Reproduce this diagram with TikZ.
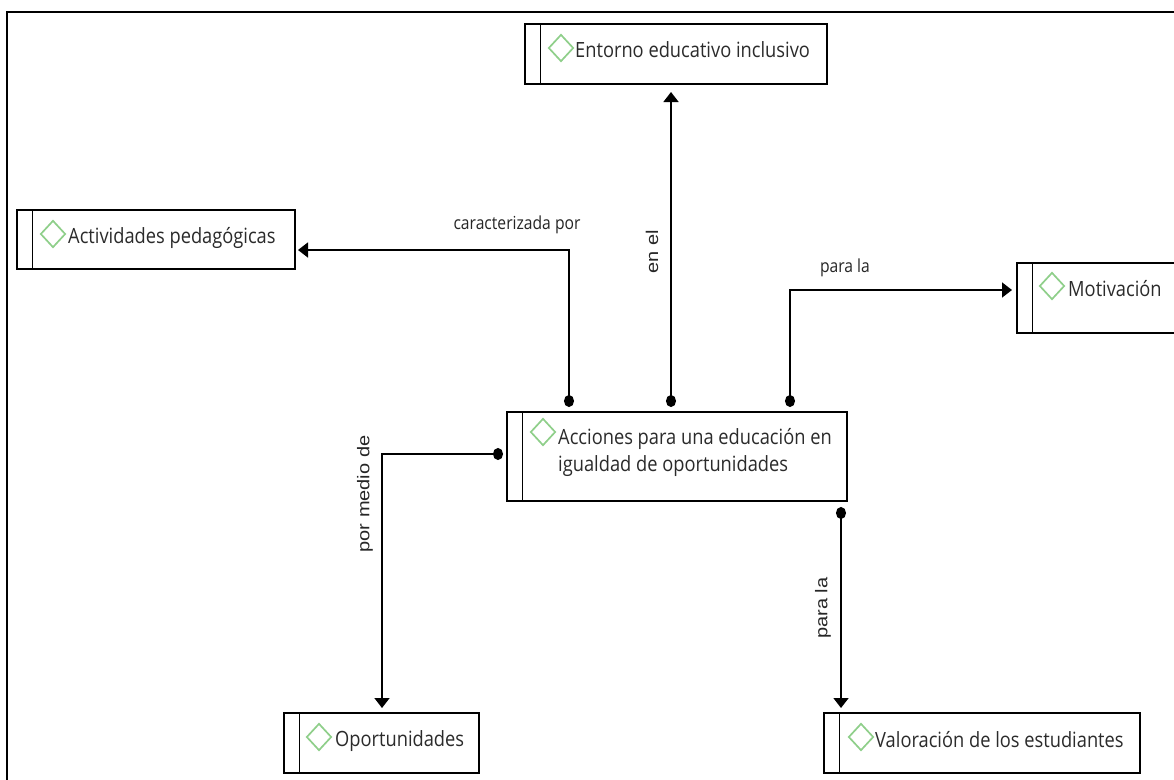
\documentclass[tikz,border=0pt]{standalone}
\usepackage{fontspec}
\setmainfont{Open Sans}[FakeStretch=0.87]
\newfontfamily\lblfont{Liberation Sans}
\usetikzlibrary{arrows.meta,shapes.geometric}
\definecolor{txtgray}{HTML}{2B2B2B}
\definecolor{diagreen}{HTML}{8FCF8A}
\tikzset{
  cbox/.style={draw=black, line width=1.8pt, rectangle, anchor=north west, inner sep=0pt, outer sep=0pt,
    path picture={\draw[line width=1.6pt] ([xshift=15.5pt]path picture bounding box.north west) -- ([xshift=15.5pt]path picture bounding box.south west);}},
  ctext/.style={inner sep=0pt, anchor=base west, align=left, text=txtgray, font=\fontsize{21}{27}\selectfont},
  dmark/.style={diamond, draw=diagreen, line width=1.7pt, minimum width=25pt, minimum height=27pt, inner sep=0pt},
  vconn/.style={line width=1.6pt, {Circle[length=12pt,width=10pt]}-{Triangle[length=10pt,width=15pt]}},
  hconn/.style={line width=1.6pt, {Circle[length=10pt,width=12pt]}-{Triangle[length=10pt,width=15pt]}},
  lbl/.style={inner sep=0pt, text=black!85, font=\fontsize{18}{20}\selectfont},
  rlbl/.style={inner sep=0pt, text=black!85, rotate=90, font=\lblfont\fontsize{20}{22}\selectfont},
}
\begin{document}
\begin{tikzpicture}[x=1pt,y=-1pt]
\useasboundingbox (0,0) rectangle (1174,779);
\fill[white] (0,0) rectangle (1174,779);
% outer frame
\draw[line width=2pt] (7,790) -- (7,12) -- (1180,12);

% boxes
\node[cbox, minimum width=340pt, minimum height=89pt] (acc) at (507,412) {};
\node[cbox, minimum width=302pt, minimum height=60pt] (ent) at (525,24) {};
\node[cbox, minimum width=278pt, minimum height=59pt] (act) at (17,210) {};
\node[cbox, minimum width=170pt, minimum height=70pt] (mot) at (1017,263) {};
\node[cbox, minimum width=195pt, minimum height=60pt] (opo) at (284,713) {};
\node[cbox, minimum width=316pt, minimum height=60pt] (val) at (824,713) {};

% diamonds
\node[dmark] (acc-d) at (543,432) {};
\node[dmark] (ent-d) at (561,48) {};
\node[dmark] (act-d) at (53,234) {};
\node[dmark] (mot-d) at (1052,286) {};
\node[dmark] (opo-d) at (319,737) {};
\node[dmark] (val-d) at (861,737) {};

% texts
\node[ctext] (acc-t) at (558,471) {Acciones para una educación en\\igualdad de oportunidades};
\node[ctext] (ent-t) at (575,57) {Entorno educativo inclusivo};
\node[ctext] (act-t) at (68,243) {Actividades pedagógicas};
\node[ctext] (mot-t) at (1068,296) {Motivación};
\node[ctext] (opo-t) at (335,746) {Oportunidades};
\node[ctext] (val-t) at (875,747) {Valoración de los estudiantes};

% connectors
\draw[vconn, shorten >=3pt] ([yshift=5pt]acc.north -| 569,0) |- (act.east |- 0,250);
\draw[vconn, shorten >=8pt] ([yshift=5pt]acc.north -| 671,0) -- (ent.south -| 671,0);
\draw[vconn, shorten >=5pt] ([yshift=5pt]acc.north -| 790,0) |- (mot.west |- 0,290);
\draw[hconn, shorten >=5pt] ([xshift=-4pt]acc.west |- 0,454) -| (opo.north -| 382,0);
\draw[vconn, shorten >=5pt] ([yshift=-6pt]acc.south -| 841,0) -- (val.north -| 841,0);

% labels
\node[lbl] (l1) at (517,225) {caracterizada por};
\node[rlbl] (l2) at (652,252) {\scalebox{1}[0.85]{en el}};
\node[lbl] (l3) at (845,268) {para la};
\node[rlbl] (l4) at (365,494) {\scalebox{1}[0.85]{por medio de}};
\node[rlbl] (l5) at (823,608) {\scalebox{1}[0.85]{para la}};
\end{tikzpicture}
\end{document}
